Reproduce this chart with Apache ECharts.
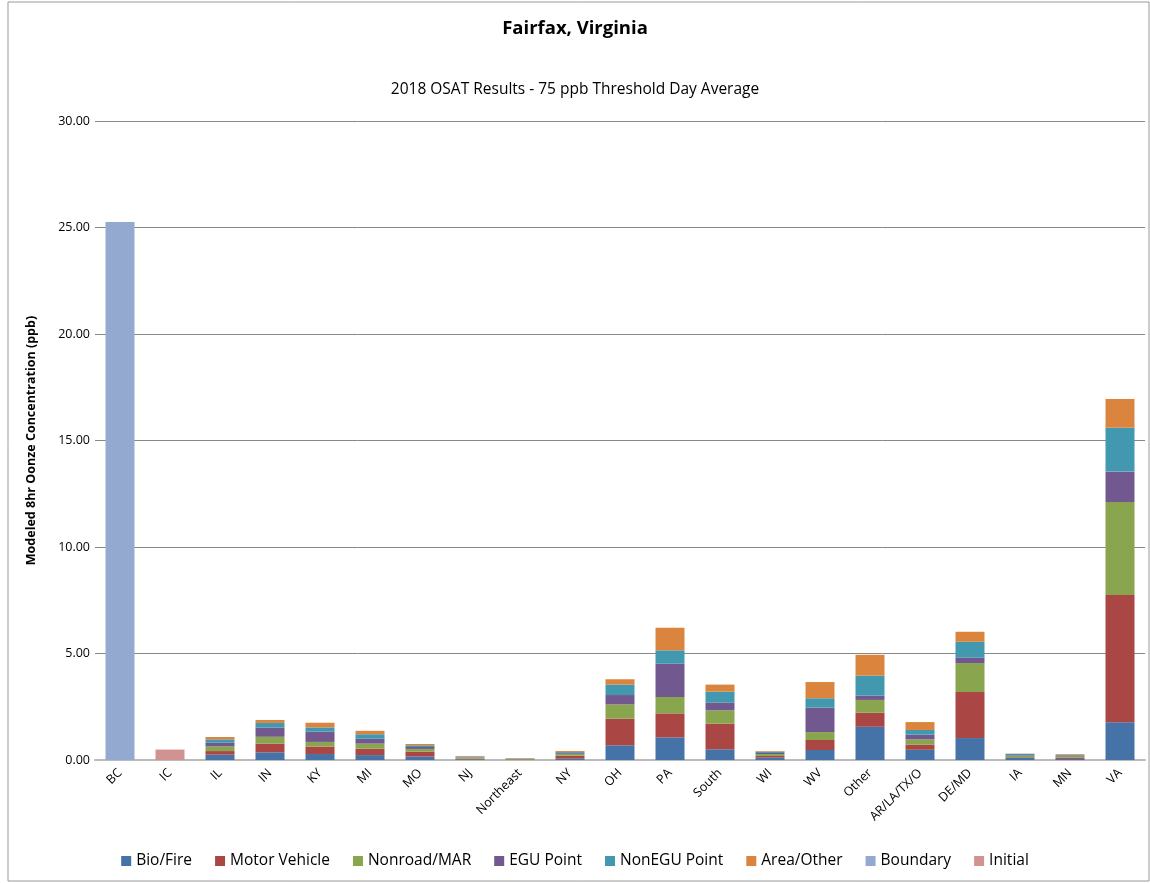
<!DOCTYPE html>
<html>
<head>
<meta charset="utf-8">
<script src="https://cdn.jsdelivr.net/npm/echarts@6/dist/echarts.min.js"></script>
<style>html,body{margin:0;padding:0;background:#fff}#c{width:1150px;height:883px}</style>
</head>
<body>
<div id="c"></div>
<script>
const categories = ['BC','IC','IL','IN','KY','MI','MO','NJ','Northeast','NY','OH','PA','South','WI','WV','Other','AR/LA/TX/O','DE/MD','IA','MN','VA'];
const bioFire      = [null,null,0.25,0.36,0.28,0.23,0.16,0.03,0.02,0.06,0.69,1.06,0.50,0.11,0.47,1.56,0.48,1.03,0.10,0.05,1.77];
const motorVehicle = [null,null,0.17,0.41,0.35,0.30,0.23,0.03,0.01,0.14,1.25,1.13,1.21,0.08,0.47,0.66,0.24,2.16,0.03,0.05,5.98];
const nonroadMAR   = [null,null,0.22,0.32,0.22,0.24,0.13,0.05,0.02,0.08,0.67,0.77,0.62,0.09,0.37,0.60,0.25,1.36,0.07,0.06,4.36];
const eguPoint     = [null,null,0.17,0.43,0.48,0.23,0.09,0.02,0.01,0.04,0.44,1.56,0.36,0.05,1.15,0.20,0.22,0.25,0.03,0.03,1.43];
const nonEguPoint  = [null,null,0.16,0.22,0.20,0.21,0.08,0.03,0.01,0.05,0.49,0.63,0.52,0.06,0.44,0.94,0.22,0.75,0.06,0.04,2.06];
const areaOther    = [null,null,0.11,0.14,0.22,0.16,0.06,0.03,0.02,0.05,0.25,1.06,0.33,0.03,0.76,0.98,0.37,0.47,0.01,0.04,1.35];
const boundary     = [25.26,null,null,null,null,null,null,null,null,null,null,null,null,null,null,null,null,null,null,null,null];
const initial      = [null,0.49,null,null,null,null,null,null,null,null,null,null,null,null,null,null,null,null,null,null,null];
const yTicks = [0,5,10,15,20,25,30];

const seriesDefs = [
  ['Bio/Fire', bioFire, '#4572A7'],
  ['Motor Vehicle', motorVehicle, '#AA4643'],
  ['Nonroad/MAR', nonroadMAR, '#89A54E'],
  ['EGU Point', eguPoint, '#71588F'],
  ['NonEGU Point', nonEguPoint, '#4198AF'],
  ['Area/Other', areaOther, '#DB843D'],
  ['Boundary', boundary, '#93A9CF'],
  ['Initial', initial, '#D19392']
];
const font = 'Open Sans, Noto Sans, sans-serif';
const chart = echarts.init(document.getElementById('c'));
chart.setOption({
  animation: false,
  backgroundColor: '#fff',
  textStyle: { fontFamily: font },
  title: [
    { text: 'Fairfax, Virginia', left: 'center', top: 14, textStyle: { fontSize: 18.5, fontWeight: 'bold', color: '#000', fontFamily: font } },
    { text: '2018 OSAT Results - 75 ppb Threshold Day Average', left: 'center', top: 77, textStyle: { fontSize: 15.5, fontWeight: 'normal', color: '#000', fontFamily: font } }
  ],
  graphic: [{ type: 'rect', shape: { x: 8, y: 2, width: 1141, height: 879 }, style: { fill: 'none', stroke: '#999', lineWidth: 1 }, silent: true }],
  legend: {
    bottom: 9, left: 'center', itemWidth: 10, itemHeight: 10, itemGap: 23,
    icon: 'rect',
    textStyle: { fontSize: 15.5, color: '#000', fontFamily: font },
    data: seriesDefs.map(s => s[0])
  },
  grid: { left: 95, right: 5, top: 121, bottom: 123, containLabel: false },
  xAxis: {
    type: 'category', data: categories,
    axisLine: { lineStyle: { color: '#bbb', width: 2 } },
    axisTick: { show: false },
    axisLabel: { rotate: 45, fontSize: 12.5, color: '#000', margin: 11, interval: 0, fontFamily: font }
  },
  yAxis: {
    type: 'value', min: 0, max: 30, interval: 5,
    name: 'Modeled 8hr Oonze Concentration (ppb)', nameLocation: 'middle', nameGap: 57,
    nameTextStyle: { fontSize: 12.5, fontWeight: 'bold', color: '#000', fontFamily: font },
    axisLine: { show: false }, axisTick: { show: false },
    splitLine: { lineStyle: { color: '#888', width: 1 } },
    axisLabel: { fontSize: 12.5, color: '#000', margin: 5, formatter: v => yTicks.includes(v) ? v.toFixed(2) : '' }
  },
  series: seriesDefs.map(s => ({
    name: s[0], type: 'bar', stack: 'total', data: s[1], barWidth: 29,
    itemStyle: { color: s[2] }
  }))
});
</script>
</body>
</html>
